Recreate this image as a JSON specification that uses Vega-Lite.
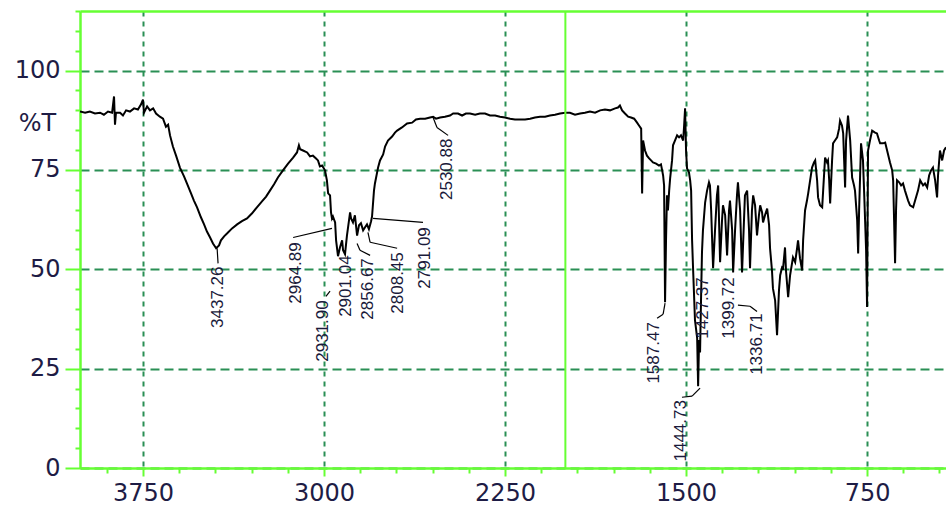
{
"$schema": "https://vega.github.io/schema/vega-lite/v6.json",
"width": 866, "height": 457,
"autosize": {"type": "none"},
"padding": {"left": 80, "top": 11, "right": 0, "bottom": 38},
"background": "white",
"config": {"view": {"stroke": null}},
"datasets": {
"spectrum": [
{"wn":4011,"t":89.7},{"wn":3990,"t":89.4},{"wn":3970,"t":89.7},{"wn":3949,"t":89.2},{"wn":3928,"t":89.4},{"wn":3912,"t":88.9},{"wn":3895,"t":89.7},{"wn":3878,"t":89.4},{"wn":3870,"t":93.5},{"wn":3866,"t":86.4},{"wn":3862,"t":89.4},{"wn":3845,"t":89.4},{"wn":3833,"t":88.7},{"wn":3820,"t":90.0},{"wn":3804,"t":89.7},{"wn":3787,"t":90.5},{"wn":3771,"t":90.2},{"wn":3758,"t":91.5},{"wn":3750,"t":92.7},{"wn":3746,"t":89.4},{"wn":3733,"t":91.0},{"wn":3721,"t":90.0},{"wn":3708,"t":90.5},{"wn":3696,"t":89.2},{"wn":3680,"t":88.4},{"wn":3667,"t":87.9},{"wn":3655,"t":85.9},{"wn":3646,"t":86.4},{"wn":3638,"t":83.7},{"wn":3626,"t":80.9},{"wn":3613,"t":78.6},{"wn":3597,"t":75.6},{"wn":3580,"t":73.4},{"wn":3568,"t":71.6},{"wn":3551,"t":69.1},{"wn":3539,"t":67.3},{"wn":3526,"t":65.6},{"wn":3510,"t":63.1},{"wn":3497,"t":61.3},{"wn":3485,"t":59.5},{"wn":3472,"t":58.0},{"wn":3460,"t":56.5},{"wn":3447,"t":55.3},{"wn":3435,"t":56.0},{"wn":3427,"t":57.3},{"wn":3414,"t":58.3},{"wn":3402,"t":59.0},{"wn":3381,"t":60.3},{"wn":3360,"t":61.3},{"wn":3340,"t":62.1},{"wn":3319,"t":62.8},{"wn":3298,"t":64.1},{"wn":3278,"t":65.6},{"wn":3257,"t":67.1},{"wn":3240,"t":68.3},{"wn":3224,"t":69.8},{"wn":3207,"t":71.4},{"wn":3191,"t":73.1},{"wn":3170,"t":74.9},{"wn":3149,"t":76.6},{"wn":3128,"t":78.1},{"wn":3112,"t":79.4},{"wn":3104,"t":81.2},{"wn":3099,"t":80.2},{"wn":3087,"t":79.9},{"wn":3070,"t":79.4},{"wn":3058,"t":78.4},{"wn":3046,"t":78.6},{"wn":3033,"t":77.9},{"wn":3025,"t":77.4},{"wn":3017,"t":75.9},{"wn":3008,"t":76.1},{"wn":2996,"t":74.9},{"wn":2988,"t":72.4},{"wn":2983,"t":69.1},{"wn":2975,"t":68.6},{"wn":2971,"t":64.3},{"wn":2967,"t":62.8},{"wn":2963,"t":63.3},{"wn":2954,"t":61.8},{"wn":2950,"t":57.3},{"wn":2942,"t":53.3},{"wn":2934,"t":55.5},{"wn":2925,"t":57.3},{"wn":2921,"t":54.8},{"wn":2913,"t":53.8},{"wn":2905,"t":58.5},{"wn":2892,"t":64.3},{"wn":2888,"t":62.8},{"wn":2880,"t":61.8},{"wn":2872,"t":63.6},{"wn":2863,"t":58.5},{"wn":2855,"t":61.1},{"wn":2847,"t":61.6},{"wn":2838,"t":59.8},{"wn":2830,"t":60.6},{"wn":2822,"t":61.3},{"wn":2814,"t":60.1},{"wn":2805,"t":62.1},{"wn":2801,"t":63.3},{"wn":2793,"t":69.8},{"wn":2789,"t":71.6},{"wn":2780,"t":74.4},{"wn":2776,"t":75.6},{"wn":2768,"t":77.4},{"wn":2755,"t":78.9},{"wn":2747,"t":80.9},{"wn":2735,"t":82.4},{"wn":2718,"t":83.4},{"wn":2706,"t":84.4},{"wn":2697,"t":84.9},{"wn":2677,"t":85.7},{"wn":2656,"t":86.7},{"wn":2635,"t":86.9},{"wn":2619,"t":87.7},{"wn":2602,"t":87.9},{"wn":2581,"t":87.9},{"wn":2561,"t":88.2},{"wn":2548,"t":88.4},{"wn":2536,"t":87.9},{"wn":2519,"t":88.2},{"wn":2499,"t":88.4},{"wn":2478,"t":88.7},{"wn":2465,"t":89.2},{"wn":2445,"t":89.2},{"wn":2428,"t":88.7},{"wn":2412,"t":89.2},{"wn":2395,"t":89.2},{"wn":2374,"t":88.9},{"wn":2354,"t":89.2},{"wn":2333,"t":89.2},{"wn":2312,"t":88.7},{"wn":2291,"t":88.7},{"wn":2271,"t":88.4},{"wn":2250,"t":88.2},{"wn":2229,"t":87.9},{"wn":2209,"t":87.7},{"wn":2188,"t":87.7},{"wn":2167,"t":87.7},{"wn":2146,"t":87.9},{"wn":2126,"t":88.2},{"wn":2105,"t":88.4},{"wn":2084,"t":88.4},{"wn":2064,"t":88.7},{"wn":2043,"t":88.9},{"wn":2022,"t":89.2},{"wn":2001,"t":89.4},{"wn":1981,"t":89.4},{"wn":1960,"t":88.9},{"wn":1939,"t":89.2},{"wn":1919,"t":89.4},{"wn":1898,"t":89.7},{"wn":1877,"t":89.4},{"wn":1856,"t":90.0},{"wn":1836,"t":90.2},{"wn":1815,"t":90.0},{"wn":1794,"t":90.5},{"wn":1782,"t":90.7},{"wn":1774,"t":91.2},{"wn":1765,"t":90.0},{"wn":1753,"t":89.2},{"wn":1740,"t":88.4},{"wn":1728,"t":88.2},{"wn":1715,"t":87.9},{"wn":1703,"t":86.9},{"wn":1695,"t":86.2},{"wn":1686,"t":85.4},{"wn":1682,"t":69.1},{"wn":1678,"t":82.4},{"wn":1670,"t":79.9},{"wn":1662,"t":78.6},{"wn":1653,"t":77.9},{"wn":1645,"t":77.4},{"wn":1637,"t":76.9},{"wn":1624,"t":76.6},{"wn":1612,"t":76.1},{"wn":1604,"t":76.4},{"wn":1599,"t":74.9},{"wn":1595,"t":73.6},{"wn":1591,"t":71.1},{"wn":1587,"t":41.7},{"wn":1583,"t":57.3},{"wn":1579,"t":68.6},{"wn":1575,"t":64.8},{"wn":1570,"t":69.8},{"wn":1566,"t":72.9},{"wn":1558,"t":77.4},{"wn":1554,"t":81.2},{"wn":1546,"t":82.4},{"wn":1537,"t":83.7},{"wn":1529,"t":83.2},{"wn":1521,"t":83.7},{"wn":1512,"t":82.4},{"wn":1508,"t":86.2},{"wn":1504,"t":90.5},{"wn":1500,"t":79.9},{"wn":1496,"t":75.4},{"wn":1488,"t":74.4},{"wn":1483,"t":72.4},{"wn":1479,"t":69.8},{"wn":1475,"t":57.3},{"wn":1471,"t":50.3},{"wn":1463,"t":37.2},{"wn":1454,"t":32.7},{"wn":1450,"t":20.6},{"wn":1446,"t":32.2},{"wn":1442,"t":29.1},{"wn":1438,"t":42.2},{"wn":1434,"t":54.3},{"wn":1430,"t":59.8},{"wn":1421,"t":66.8},{"wn":1413,"t":69.8},{"wn":1405,"t":71.9},{"wn":1401,"t":71.1},{"wn":1396,"t":64.8},{"wn":1388,"t":50.3},{"wn":1380,"t":59.8},{"wn":1372,"t":68.6},{"wn":1367,"t":71.1},{"wn":1359,"t":51.8},{"wn":1351,"t":62.3},{"wn":1347,"t":66.1},{"wn":1338,"t":63.6},{"wn":1330,"t":53.5},{"wn":1322,"t":64.8},{"wn":1318,"t":67.3},{"wn":1309,"t":59.8},{"wn":1305,"t":49.2},{"wn":1297,"t":59.8},{"wn":1289,"t":68.6},{"wn":1285,"t":71.9},{"wn":1276,"t":64.8},{"wn":1268,"t":49.2},{"wn":1260,"t":62.3},{"wn":1256,"t":68.6},{"wn":1247,"t":69.8},{"wn":1239,"t":59.8},{"wn":1235,"t":50.3},{"wn":1227,"t":64.8},{"wn":1222,"t":68.6},{"wn":1214,"t":66.1},{"wn":1206,"t":58.5},{"wn":1198,"t":63.6},{"wn":1193,"t":66.1},{"wn":1185,"t":64.3},{"wn":1181,"t":61.8},{"wn":1173,"t":63.6},{"wn":1164,"t":65.3},{"wn":1156,"t":61.1},{"wn":1152,"t":55.3},{"wn":1144,"t":49.7},{"wn":1140,"t":45.2},{"wn":1131,"t":42.2},{"wn":1123,"t":33.4},{"wn":1115,"t":44.7},{"wn":1110,"t":48.5},{"wn":1102,"t":50.5},{"wn":1098,"t":50.3},{"wn":1090,"t":55.5},{"wn":1086,"t":49.7},{"wn":1077,"t":43.0},{"wn":1069,"t":48.5},{"wn":1057,"t":53.0},{"wn":1048,"t":51.8},{"wn":1040,"t":55.3},{"wn":1036,"t":57.3},{"wn":1028,"t":52.8},{"wn":1019,"t":49.7},{"wn":1015,"t":57.3},{"wn":1007,"t":64.8},{"wn":999,"t":67.3},{"wn":994,"t":69.1},{"wn":986,"t":72.4},{"wn":978,"t":75.6},{"wn":970,"t":76.9},{"wn":965,"t":77.4},{"wn":957,"t":72.4},{"wn":953,"t":68.1},{"wn":945,"t":66.1},{"wn":936,"t":65.6},{"wn":932,"t":69.8},{"wn":924,"t":78.1},{"wn":916,"t":76.9},{"wn":912,"t":77.4},{"wn":907,"t":72.4},{"wn":903,"t":66.6},{"wn":895,"t":77.4},{"wn":891,"t":81.7},{"wn":883,"t":82.4},{"wn":874,"t":83.2},{"wn":866,"t":85.4},{"wn":862,"t":87.4},{"wn":854,"t":86.2},{"wn":849,"t":84.2},{"wn":845,"t":77.4},{"wn":841,"t":70.6},{"wn":837,"t":82.4},{"wn":829,"t":88.7},{"wn":820,"t":82.4},{"wn":812,"t":73.1},{"wn":804,"t":71.1},{"wn":800,"t":69.8},{"wn":791,"t":62.3},{"wn":787,"t":54.0},{"wn":783,"t":64.8},{"wn":775,"t":81.7},{"wn":767,"t":77.4},{"wn":762,"t":69.1},{"wn":754,"t":54.8},{"wn":750,"t":40.5},{"wn":746,"t":79.9},{"wn":738,"t":82.4},{"wn":729,"t":84.9},{"wn":717,"t":84.4},{"wn":709,"t":84.2},{"wn":700,"t":82.4},{"wn":696,"t":81.7},{"wn":684,"t":81.7},{"wn":675,"t":81.9},{"wn":667,"t":79.9},{"wn":655,"t":76.9},{"wn":646,"t":74.9},{"wn":642,"t":72.4},{"wn":638,"t":62.3},{"wn":634,"t":51.5},{"wn":630,"t":64.8},{"wn":626,"t":72.4},{"wn":617,"t":71.9},{"wn":609,"t":71.1},{"wn":601,"t":71.6},{"wn":593,"t":69.8},{"wn":580,"t":67.3},{"wn":572,"t":66.1},{"wn":559,"t":65.6},{"wn":551,"t":67.3},{"wn":539,"t":69.8},{"wn":530,"t":72.4},{"wn":518,"t":71.1},{"wn":510,"t":71.6},{"wn":501,"t":70.6},{"wn":493,"t":73.6},{"wn":485,"t":74.9},{"wn":477,"t":75.6},{"wn":468,"t":72.4},{"wn":460,"t":68.1},{"wn":456,"t":73.6},{"wn":448,"t":79.9},{"wn":439,"t":77.4},{"wn":431,"t":79.9},{"wn":423,"t":80.7}
],
"labels": [
{"label":"3437.26","wn":3439,"t":50.7},
{"label":"2964.89","wn":3116,"t":56.8},
{"label":"2931.90","wn":3004,"t":42.2},
{"label":"2901.04","wn":2909,"t":53.5},
{"label":"2856.67","wn":2818,"t":52.8},
{"label":"2808.45","wn":2693,"t":54.3},
{"label":"2791.09","wn":2581,"t":60.6},
{"label":"2530.88","wn":2490,"t":82.9},
{"label":"1587.47","wn":1633,"t":36.7},
{"label":"1444.73","wn":1521,"t":17.1},
{"label":"1427.37","wn":1430,"t":48.0},
{"label":"1399.72","wn":1322,"t":48.0},
{"label":"1336.71","wn":1206,"t":38.9}
],
"leaders": [
{"wn1":3443,"t1":55.3,"wn2":3439,"t2":51.5},
{"wn1":3128,"t1":58.0,"wn2":2967,"t2":60.3},
{"wn1":2992,"t1":43.2,"wn2":2975,"t2":44.5},
{"wn1":2863,"t1":56.5,"wn2":2851,"t2":54.8},
{"wn1":2851,"t1":54.8,"wn2":2809,"t2":53.5},
{"wn1":2818,"t1":59.3,"wn2":2809,"t2":56.8},
{"wn1":2809,"t1":56.8,"wn2":2697,"t2":55.3},
{"wn1":2797,"t1":62.8,"wn2":2590,"t2":61.8},
{"wn1":2548,"t1":88.2,"wn2":2532,"t2":85.7},
{"wn1":2532,"t1":85.7,"wn2":2486,"t2":83.7},
{"wn1":1587,"t1":41.5,"wn2":1595,"t2":38.7},
{"wn1":1595,"t1":38.7,"wn2":1620,"t2":37.7},
{"wn1":1442,"t1":20.1,"wn2":1475,"t2":18.1},
{"wn1":1475,"t1":18.1,"wn2":1517,"t2":17.8},
{"wn1":1285,"t1":41.0,"wn2":1235,"t2":40.7},
{"wn1":1235,"t1":40.7,"wn2":1206,"t2":39.4}
],
"marker": [{"wn": 2000}]
},
"resolve": {"axis": {"x": "independent", "y": "independent"}},
"layer": [
{
"data": {"name": "spectrum"},
"mark": {"type": "line", "color": "black", "strokeWidth": 2, "clip": true},
"encoding": {
"x": {"field": "wn", "type": "quantitative",
 "scale": {"domain": [4011, 423], "nice": false, "zero": false},
 "axis": {
  "values": [3900,3750,3600,3450,3300,3150,3000,2850,2700,2550,2400,2250,2100,1950,1800,1650,1500,1350,1200,1050,900,750,600,450],
  "format": "d",
  "labelExpr": "datum.value % 750 === 0 ? datum.label : ''",
  "labelOverlap": false, "labelFlush": false,
  "labelFont": "DejaVu Sans", "labelFontSize": 24, "labelColor": "#1e1c45", "labelPadding": 5,
  "grid": true, "gridColor": "#2a8f55", "gridDash": [5, 5], "gridWidth": 2,
  "gridOpacity": {"condition": {"test": "datum.value % 750 === 0", "value": 1}, "value": 0},
  "tickColor": "#66ff33", "tickWidth": 2,
  "tickSize": {"condition": {"test": "datum.value % 750 === 0", "value": 8}, "value": 5},
  "domainColor": "#66ff33", "domainWidth": 2.5,
  "title": null
 }},
"y": {"field": "t", "type": "quantitative",
 "scale": {"domain": [0, 115], "nice": false, "zero": false},
 "axis": {
  "values": [0,5,10,15,20,25,30,35,40,45,50,55,60,65,70,75,80,85,90,95,100,105,110,115],
  "format": "d",
  "labelExpr": "datum.value % 25 === 0 ? datum.label : ''",
  "labelOverlap": false, "labelFlush": false,
  "labelFont": "DejaVu Sans", "labelFontSize": 24, "labelColor": "#1e1c45", "labelPadding": 5,
  "labelBaseline": "middle",
  "grid": true, "gridColor": "#2a8f55", "gridDash": [9, 5], "gridWidth": 2,
  "gridOpacity": {"condition": {"test": "datum.value % 25 === 0", "value": 1}, "value": 0},
  "tickColor": "#66ff33", "tickWidth": 2,
  "tickSize": {"condition": {"test": "datum.value % 25 === 0", "value": 15}, "value": 5},
  "domainColor": "#66ff33", "domainWidth": 2.5,
  "title": "%T", "titleAngle": 0, "titleX": -43, "titleY": 112,
  "titleAlign": "center", "titleBaseline": "middle",
  "titleFont": "DejaVu Sans", "titleFontSize": 24, "titleFontWeight": "normal", "titleColor": "#1e1c45"
 }},
"order": {"value": null}
}
},
{
"data": {"name": "marker"},
"mark": {"type": "rule", "color": "#66ff33", "strokeWidth": 2},
"encoding": {
"x": {"field": "wn", "type": "quantitative",
 "axis": {"orient": "top", "labels": false, "ticks": false, "grid": false, "domainColor": "#66ff33", "domainWidth": 2.5, "title": null}}
}
},
{
"data": {"name": "leaders"},
"mark": {"type": "rule", "color": "black", "strokeWidth": 1.2},
"encoding": {
"x": {"field": "wn1", "type": "quantitative", "axis": null},
"x2": {"field": "wn2"},
"y": {"field": "t1", "type": "quantitative", "axis": null},
"y2": {"field": "t2"}
}
},
{
"data": {"name": "labels"},
"mark": {"type": "text", "angle": 270, "align": "right", "baseline": "middle", "font": "Liberation Sans Narrow, Liberation Sans, Arial", "fontSize": 17, "color": "#1a1a3a"},
"encoding": {
"x": {"field": "wn", "type": "quantitative", "axis": null},
"y": {"field": "t", "type": "quantitative", "axis": null},
"text": {"field": "label"}
}
}
]
}
